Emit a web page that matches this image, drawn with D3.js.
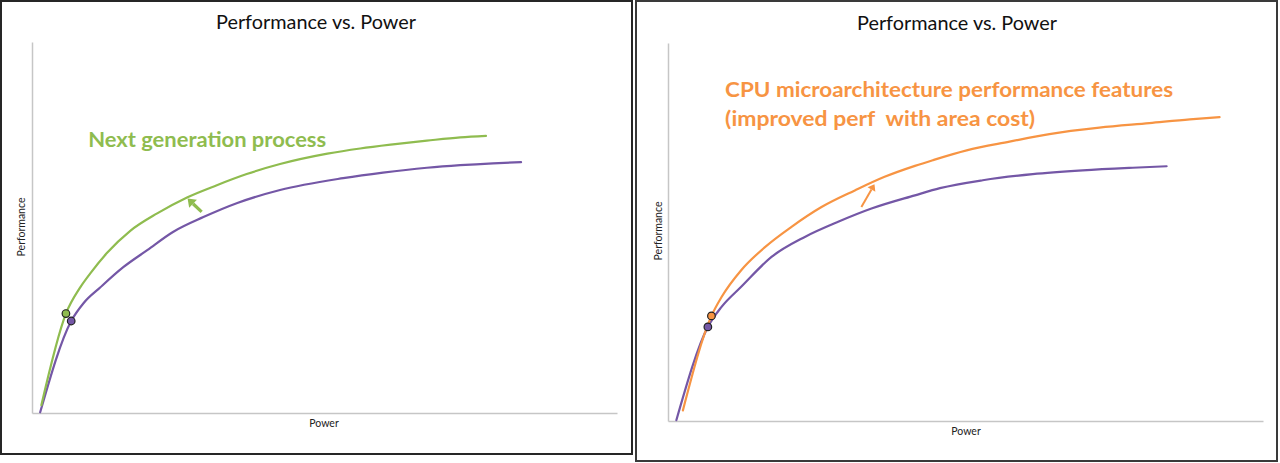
<!DOCTYPE html>
<html>
<head>
<meta charset="utf-8">
<script src="https://cdn.jsdelivr.net/npm/d3@7"></script>
<style>
  html, body { margin: 0; padding: 0; background: #fff; }
  svg { display: block; }
  text { white-space: pre; }
</style>
</head>
<body>
<svg id="chart" width="1280" height="463"></svg>
<script>
// ---------- DATA (Power vs Performance, arbitrary 0-100 units) ----------
const titleText = "Performance vs. Power";
const xLabel = "Power";
const yLabel = "Performance";

// Left panel: baseline process (purple) and next generation process (green)
const leftBasePower = [1.4, 6.7, 8.8, 11.7, 15.6, 19.7, 24.1, 29.3, 35.1, 42.4, 53.2, 60.0, 67.5, 73.2, 78.8, 83.6];
const leftBasePerf  = [0.2, 24.8, 29.6, 33.9, 39.3, 43.9, 48.8, 52.8, 56.6, 60.1, 63.3, 64.8, 66.1, 66.8, 67.3, 67.6];
const leftNextPower = [1.6, 5.8, 8.3, 10.0, 12.8, 16.8, 21.4, 26.5, 31.6, 36.7, 42.4, 50.5, 56.1, 61.7, 67.5, 73.2, 77.6];
const leftNextPerf  = [2.1, 26.8, 34.0, 37.7, 43.1, 49.1, 53.8, 58.1, 61.4, 64.4, 67.1, 69.9, 71.3, 72.4, 73.4, 74.3, 74.7];
const leftBaseMarker = [6.7, 24.8];
const leftNextMarker = [5.8, 26.8];
const leftLabel = "Next generation process";

// Right panel: baseline core (purple) and CPU microarchitecture features (orange)
const rightBasePower  = [1.4, 6.7, 9.0, 12.3, 17.4, 23.0, 28.6, 34.2, 41.5, 45.7, 52.9, 61.3, 69.7, 78.1, 83.8];
const rightBasePerf   = [0.2, 24.9, 30.2, 35.5, 43.4, 48.7, 52.7, 56.2, 59.7, 61.6, 63.7, 65.3, 66.3, 67.0, 67.4];
const rightUarchPower = [2.5, 7.3, 9.0, 12.3, 16.3, 20.7, 25.8, 31.4, 36.4, 41.5, 44.5, 50.2, 57.4, 64.1, 72.5, 80.9, 87.7, 92.7];
const rightUarchPerf  = [2.8, 27.8, 32.8, 39.9, 46.0, 51.3, 56.6, 61.0, 64.6, 67.5, 69.0, 71.6, 73.9, 75.9, 77.6, 78.8, 79.8, 80.4];
const rightBaseMarker  = [6.7, 24.9];
const rightUarchMarker = [7.3, 27.8];
const rightLabelLines = ["CPU microarchitecture performance features", "(improved perf  with area cost)"];

// ---------- DRAWING ----------
const svg = d3.select("#chart");
const purple = "#7457a6", green = "#8fbc4f", orange = "#f79443";
const FONT = "Lato, 'Open Sans', sans-serif";

function zip(xs, ys) { return xs.map((x, i) => [x, ys[i]]); }

function panel(cfg) {
  const g = svg.append("g");
  g.append("rect").attr("x", cfg.frame[0]).attr("y", cfg.frame[1])
    .attr("width", cfg.frame[2]).attr("height", cfg.frame[3])
    .attr("fill", "#fff").attr("stroke", cfg.frameColor).attr("stroke-width", 2);

  const x = d3.scaleLinear().domain([0, 100]).range([cfg.plot.left, cfg.plot.right]);
  const y = d3.scaleLinear().domain([0, 100]).range([cfg.plot.bottom, cfg.plot.top]);

  const xAxis = d3.axisBottom(x).tickValues([]).tickSizeOuter(0);
  const yAxis = d3.axisLeft(y).tickValues([]).tickSizeOuter(0);
  const gx = g.append("g").attr("transform", `translate(0,${cfg.plot.bottom})`).call(xAxis);
  const gy = g.append("g").attr("transform", `translate(${cfg.plot.left},0)`).call(yAxis);
  [gx, gy].forEach(a => a.select(".domain").attr("stroke", "#c6c6c6").attr("stroke-width", 1.5));

  g.append("text").attr("x", cfg.titleX).attr("y", cfg.titleY)
    .attr("text-anchor", "middle").attr("font-family", FONT).attr("font-size", 19)
    .attr("textLength", 200).attr("lengthAdjust", "spacingAndGlyphs")
    .attr("fill", "#111").text(titleText);
  g.append("text").attr("x", cfg.xLabelX).attr("y", cfg.xLabelY)
    .attr("text-anchor", "middle").attr("font-family", FONT).attr("font-size", 10.5)
    .attr("fill", "#222").text(xLabel);
  g.append("text").attr("transform", `translate(${cfg.yLabelX},${cfg.yLabelY}) rotate(-90)`)
    .attr("text-anchor", "middle").attr("font-family", FONT).attr("font-size", 10.5)
    .attr("fill", "#222").text(yLabel);

  const line = d3.line().x(d => x(d[0])).y(d => y(d[1])).curve(d3.curveMonotoneX);

  cfg.series.forEach(s => {
    g.append("path").datum(zip(s.xs, s.ys))
      .attr("fill", "none").attr("stroke", s.color).attr("stroke-width", 2.2)
      .attr("stroke-linecap", "round").attr("stroke-linejoin", "round").attr("d", line);
  });
  cfg.series.forEach(s => {
    g.append("circle").attr("cx", x(s.marker[0])).attr("cy", y(s.marker[1])).attr("r", 3.8)
      .attr("fill", s.color).attr("stroke", "#222").attr("stroke-width", 1.2);
  });

  const a = cfg.arrow;
  const x1 = x(a.from[0]), y1 = y(a.from[1]), x2 = x(a.to[0]), y2 = y(a.to[1]);
  const ang = Math.atan2(y2 - y1, x2 - x1);
  const hl = a.head, hw = a.head * 0.75;
  const bx = x2 - hl * Math.cos(ang), by = y2 - hl * Math.sin(ang);
  g.append("line").attr("x1", x1).attr("y1", y1).attr("x2", bx).attr("y2", by)
    .attr("stroke", a.color).attr("stroke-width", a.width);
  g.append("path").attr("fill", a.color).attr("d",
    `M${x2},${y2}L${bx + hw * Math.sin(ang)},${by - hw * Math.cos(ang)}L${bx - hw * Math.sin(ang)},${by + hw * Math.cos(ang)}Z`);

  cfg.label.lines.forEach((t, i) => {
    g.append("text").attr("x", x(cfg.label.at[0])).attr("y", y(cfg.label.at[1]) + i * cfg.label.lh)
      .attr("font-family", FONT).attr("font-weight", 700).attr("font-size", cfg.label.size)
      .attr("textLength", cfg.label.widths[i]).attr("lengthAdjust", "spacingAndGlyphs")
      .attr("fill", cfg.label.color).text(t);
  });
}

panel({
  frame: [1, 1, 631, 453], frameColor: "#262626",
  plot: { left: 32, right: 617, top: 42, bottom: 413 },
  titleX: 316, titleY: 29, xLabelX: 324, xLabelY: 427, yLabelX: 25, yLabelY: 227,
  series: [
    { xs: leftBasePower, ys: leftBasePerf, color: purple, marker: leftBaseMarker },
    { xs: leftNextPower, ys: leftNextPerf, color: green, marker: leftNextMarker }
  ],
  arrow: { from: [29.0, 54.2], to: [26.6, 57.8], color: green, width: 3.2, head: 7.5 },
  label: { lines: [leftLabel], at: [9.6, 71.8], size: 21, lh: 0, color: green, widths: [238] }
});

panel({
  frame: [636, 1, 641, 460], frameColor: "#3a3a3a",
  plot: { left: 668, right: 1263, top: 43, bottom: 421 },
  titleX: 957, titleY: 30, xLabelX: 966, xLabelY: 435, yLabelX: 662, yLabelY: 231,
  series: [
    { xs: rightBasePower, ys: rightBasePerf, color: purple, marker: rightBaseMarker },
    { xs: rightUarchPower, ys: rightUarchPerf, color: orange, marker: rightUarchMarker }
  ],
  arrow: { from: [32.5, 56.6], to: [34.7, 62.6], color: orange, width: 2, head: 6 },
  label: { lines: rightLabelLines, at: [9.6, 85.7], size: 21, lh: 28.5, color: orange, widths: [448, 310] }
});
</script>
</body>
</html>
